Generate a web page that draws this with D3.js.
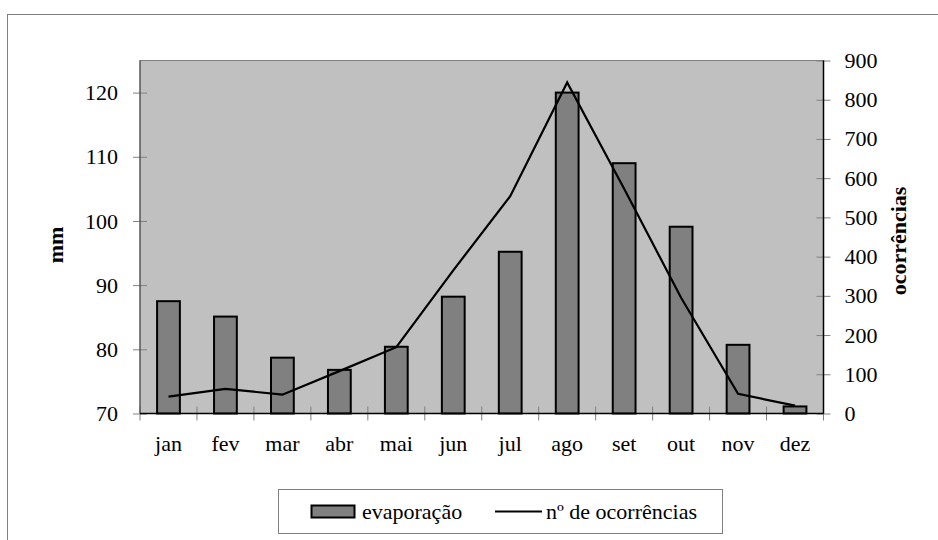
<!DOCTYPE html>
<html><head><meta charset="utf-8">
<script src="https://cdn.jsdelivr.net/npm/d3@7"></script>
<style>body{margin:0;background:#fff} svg text{font-family:"Liberation Serif","Times New Roman",serif !important;}</style>
</head><body>
<script>
const months = ["jan","fev","mar","abr","mai","jun","jul","ago","set","out","nov","dez"];
const evaporacao = [87.5,85.1,78.7,76.8,80.4,88.2,95.2,120,109,99.1,80.7,71.1];
const ocorrencias = [43,63,48,108,169,365,554,844,573,295,50,20];
const leftTicks = [70,80,90,100,110,120];
const rightTicks = [0,100,200,300,400,500,600,700,800,900];

const W=938,H=540;
const fs=22;
const svg=d3.select("body").append("svg").attr("width",W).attr("height",H);
svg.append("rect").attr("x",7.5).attr("y",14.5).attr("width",940).attr("height",540)
  .attr("fill","#fff").attr("stroke","#808080");

const L=140,R=823.5,T=60.5,B=413.5;
const x=d3.scaleBand().domain(months).range([L,R]);
const yL=d3.scaleLinear().domain([70,125]).range([B,T]);
const yR=d3.scaleLinear().domain([0,900]).range([B,T]);

svg.append("rect").attr("x",L).attr("y",T).attr("width",R-L).attr("height",B-T)
  .attr("fill","#c0c0c0").attr("stroke","#808080");

// x ticks
const xt=months.map((m)=>x(m)).concat([R]);
svg.append("g").selectAll("line").data(xt).join("line")
  .attr("x1",d=>d).attr("x2",d=>d).attr("y1",B-7).attr("y2",B+7)
  .attr("stroke","#808080");

// bars
const bw=x.bandwidth()*0.4;
svg.append("g").selectAll("rect").data(evaporacao).join("rect")
  .attr("x",(d,i)=>x(months[i])+x.bandwidth()/2-bw/2)
  .attr("width",bw)
  .attr("y",d=>yL(d)).attr("height",d=>B-yL(d))
  .attr("fill","#808080").attr("stroke","#000").attr("stroke-width",2);

// axes
const gl=svg.append("g").attr("transform",`translate(${L},0)`)
  .call(d3.axisLeft(yL).tickValues(leftTicks).tickSize(7).tickPadding(15));
const gr=svg.append("g").attr("transform",`translate(${R},0)`)
  .call(d3.axisRight(yR).tickValues(rightTicks).tickSize(7).tickPadding(14));
[gl,gr].forEach(g=>{
  g.attr("font-family",null).attr("font-size",null);
  g.select(".domain").remove();
  g.selectAll(".tick line").attr("stroke","#808080");
  g.selectAll("text").style("font-size",fs+"px").attr("fill","#000");
});
gl.selectAll(".tick").append("line").attr("x1",0).attr("x2",7).attr("stroke","#808080");
gr.selectAll(".tick").append("line").attr("x1",0).attr("x2",-7).attr("stroke","#808080");
svg.append("line").attr("x1",L).attr("x2",L).attr("y1",T).attr("y2",B).attr("stroke","#404040").attr("stroke-width",1);
svg.append("line").attr("x1",R).attr("x2",R).attr("y1",T).attr("y2",B).attr("stroke","#000").attr("stroke-width",1.5);
svg.append("line").attr("x1",L).attr("x2",R).attr("y1",B).attr("y2",B).attr("stroke","#000").attr("stroke-width",1.5);

// x labels
svg.append("g").selectAll("text").data(months).join("text")
  .attr("x",d=>x(d)+x.bandwidth()/2).attr("y",B+37)
  .attr("text-anchor","middle").style("font-size",fs+"px").text(d=>d);

// line
const line=d3.line().x((d,i)=>x(months[i])+x.bandwidth()/2).y(d=>yR(d));
svg.append("path").datum(ocorrencias).attr("d",line).attr("fill","none")
  .attr("stroke","#000").attr("stroke-width",2.2);

// axis titles
svg.append("text").attr("transform","translate(63,245) rotate(-90)")
  .attr("text-anchor","middle").style("font-size",fs+"px").attr("font-weight","bold").text("mm");
svg.append("text").attr("transform","translate(906,241) rotate(-90)")
  .attr("text-anchor","middle").style("font-size",fs+"px").attr("font-weight","bold").text("ocorrências");

// legend
const lg=svg.append("g");
lg.append("rect").attr("x",278.5).attr("y",489.5).attr("width",444).attr("height",44)
  .attr("fill","#fff").attr("stroke","#808080");
lg.append("rect").attr("x",311.5).attr("y",505.5).attr("width",43).attr("height",12)
  .attr("fill","#808080").attr("stroke","#000").attr("stroke-width",2);
lg.append("text").attr("x",362).attr("y",518.5).style("font-size",fs+"px").text("evaporação");
lg.append("line").attr("x1",495).attr("x2",542).attr("y1",511.5).attr("y2",511.5).attr("stroke","#000").attr("stroke-width",2.2);
lg.append("text").attr("x",546).attr("y",518.5).style("font-size",fs+"px").text("nº de ocorrências");
</script>
</body></html>
